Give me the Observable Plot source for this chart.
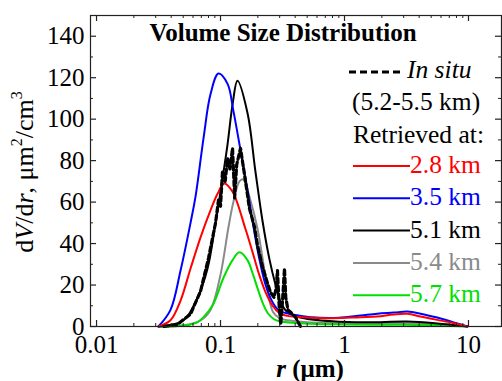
<!DOCTYPE html>
<html><head><meta charset="utf-8">
<script src="https://cdn.jsdelivr.net/npm/d3@7"></script>
<script src="https://cdn.jsdelivr.net/npm/@observablehq/plot@0.6"></script>
<style>
html,body{margin:0;padding:0;background:#fff;}
#chart svg{display:block;}
#chart svg text.serif{font-family:'Liberation Serif','Times New Roman',serif;}
</style></head><body><div id="chart"></div>
<script>
// ---- data (radius r in µm, dV/dr in µm²/cm³) ----
const rInSitu = [0.035,0.045,0.0573,0.069,0.08,0.0912,0.0963,0.1,0.1038,0.109,0.114,0.119,0.125,0.13,0.135,0.145,0.159,0.171,0.188,0.199,0.218,0.239,0.253,0.27,0.28,0.288,0.297,0.306,0.316,0.328,0.336,0.35,0.366,0.402,0.442];
const vInSitu = [0,1,6,17,33,50,61,58,75,70,81,76,86,62,78,86,70,57,48,39,29,21,16.5,14,18,27,10,1,12,28,14,8,7,4.5,0];

const r28 = [0.0316,0.0395,0.0476,0.0573,0.069,0.083,0.0946,0.107,0.125,0.159,0.181,0.205,0.231,0.263,0.297,0.356,0.46,0.8,1.35,1.84,2.49,3.22,4.11,5.6,7.6,9.8];
const v28 = [0,3,12.5,28,43,56,64,69,65,47,36,25,16.5,10,6.6,5,4.5,4,4.5,4.8,5.8,6.1,4.8,3.2,1.6,0];

const r35 = [0.0316,0.0395,0.0476,0.0573,0.063,0.073,0.083,0.0963,0.114,0.127,0.15,0.165,0.181,0.205,0.231,0.263,0.297,0.381,0.53,0.9,1.35,1.84,2.49,3.22,4.11,5.6,7.6,9.8];
const v35 = [0,8,27,50,63,91,112,122,117,104,80,66,51,33,20,11.7,7.7,5.8,4.5,4.2,5.3,6.2,6.7,7.2,6.2,4.3,2,0];

const r51 = [0.0316,0.0503,0.0653,0.0786,0.0912,0.1,0.114,0.125,0.137,0.165,0.191,0.218,0.247,0.278,0.306,0.346,0.43,0.8,1.5,3.2,5.6,7.6,9.8];
const v51 = [0,3,14,28,50,65,88,107,118.5,103,75,51,33,20,11.7,6.9,4.5,2.5,2,2.4,1.5,0.7,0];

const r54 = [0.0316,0.05,0.069,0.083,0.1,0.116,0.127,0.142,0.152,0.174,0.199,0.222,0.244,0.265,0.3,0.35,0.5,1,3.2,5.6,7.6,9.8];
const v54 = [0,0.5,3,8,25,48,60,70,71,61,47,30,15,7,4,3,2,1.5,1.6,1,0.5,0];

const r57 = [0.0316,0.045,0.0573,0.065,0.073,0.0878,0.1057,0.125,0.142,0.165,0.183,0.2,0.22,0.24,0.27,0.3,0.4,0.6,1,3,6,9.8];
const v57 = [0,0.3,1,2,4.5,11,23.5,32,35.8,32,25,18,11,6.5,3.5,2.5,1.7,1.2,1,0.8,0.5,0];

const yMajor = [0,20,40,60,80,100,120,140];
const yMinor = [10,30,50,70,90,110,130,150];
const xMajor = [0.01,0.1,1,10];
const xTickLabels = ["0.01","0.1","1","10"];
const xMinor = [2,3,4,5,6,7,8,9].flatMap(k => [0.01,0.1,1,10].map(d => k*d)).filter(v => v < 18.4);

const legendNames = ["2.8 km","3.5 km","5.1 km","5.4 km","5.7 km"];
const legendColors = ["#ff0000","#0000ff","#000000","#8a8a8a","#00e000"];

const toRows = (rs, vs) => rs.map((r, i) => ({r, v: vs[i]}));

const W = 502, H = 381, mL = 90, mR = 1, mT = 15, mB = 55;
const fw = W - mL - mR, fh = H - mT - mB;
const serif = "'Liberation Serif','Times New Roman',serif";
const frameColor = "#222";

const plot = Plot.plot({
  width: W, height: H,
  marginLeft: mL, marginRight: mR, marginTop: mT, marginBottom: mB,
  style: {fontFamily: serif, fontSize: "25px", background: "#fff", color: "#000", overflow: "visible"},
  x: {type: "log", domain: [0.00894, 18.46], label: null},
  y: {domain: [0, 150], label: null},
  marks: [
    Plot.line(toRows(r54, v54), {x: "r", y: "v", stroke: legendColors[3], strokeWidth: 2, curve: "catmull-rom"}),
    Plot.line(toRows(r57, v57), {x: "r", y: "v", stroke: legendColors[4], strokeWidth: 2, curve: "catmull-rom"}),
    Plot.line(toRows(r51, v51), {x: "r", y: "v", stroke: legendColors[2], strokeWidth: 2, curve: "catmull-rom"}),
    Plot.line(toRows(r35, v35), {x: "r", y: "v", stroke: legendColors[1], strokeWidth: 2, curve: "catmull-rom"}),
    Plot.line(toRows(r28, v28), {x: "r", y: "v", stroke: legendColors[0], strokeWidth: 2, curve: "catmull-rom"}),
    Plot.line(toRows(rInSitu, vInSitu), {x: "r", y: "v", stroke: "#000", strokeWidth: 3.2, strokeDasharray: "5,3", curve: "linear"}),
    Plot.frame({stroke: frameColor, strokeWidth: 1.2}),
    Plot.tickX(xMajor, {x: d => d, insetTop: fh - 6, stroke: frameColor, strokeWidth: 1.2}),
    Plot.tickX(xMinor, {x: d => d, insetTop: fh - 3, stroke: frameColor}),
    Plot.tickX(xMajor, {x: d => d, insetBottom: fh - 6, stroke: frameColor, strokeWidth: 1.2}),
    Plot.tickX(xMinor, {x: d => d, insetBottom: fh - 3, stroke: frameColor}),
    Plot.tickY(yMajor, {y: d => d, insetRight: fw - 6, stroke: frameColor, strokeWidth: 1.2}),
    Plot.tickY(yMinor, {y: d => d, insetRight: fw - 3, stroke: frameColor}),
    Plot.tickY(yMajor, {y: d => d, insetLeft: fw - 6, stroke: frameColor, strokeWidth: 1.2}),
    Plot.tickY(yMinor, {y: d => d, insetLeft: fw - 3, stroke: frameColor}),
    Plot.axisX({ticks: xMajor, tickSize: 0, tickPadding: 9, fontSize: 25, tickFormat: d => xTickLabels[xMajor.indexOf(d)]}),
    Plot.axisY({ticks: yMajor, tickSize: 0, tickPadding: 6, fontSize: 25})
  ]
});
document.getElementById("chart").appendChild(plot);

const svg = d3.select(plot);
const addText = (parent, anchor = "start") => parent.append("text").attr("class", "serif")
  .attr("text-anchor", anchor).style("text-anchor", anchor).style("font-family", serif);

// title
addText(svg, "middle").attr("x", 283).attr("y", 41)
  .style("font-size", "25px").style("font-weight", "bold").text("Volume Size Distribution");

// y label
const yl = addText(svg, "middle").attr("transform", "translate(33,172) rotate(-90)")
  .style("font-size", "26px");
yl.append("tspan").text("d");
yl.append("tspan").style("font-style", "italic").text("V");
yl.append("tspan").text("/d");
yl.append("tspan").style("font-style", "italic").text("r");
yl.append("tspan").text(", μm");
yl.append("tspan").style("font-size", "16px").attr("dy", -11).text("2");
yl.append("tspan").attr("dy", 11).text("/cm");
yl.append("tspan").style("font-size", "16px").attr("dy", -11).text("3");

// x label
const xl = addText(svg, "middle").attr("x", 310).attr("y", 377)
  .style("font-size", "25px").style("font-weight", "bold");
xl.append("tspan").style("font-style", "italic").text("r");
xl.append("tspan").text(" (μm)");

// legend
const lfs = "25.5px";
const lg = svg.append("g");
lg.append("line").attr("x1", 349).attr("x2", 402).attr("y1", 72).attr("y2", 72)
  .attr("stroke", "#000").attr("stroke-width", 3).attr("stroke-dasharray", "7,4");
addText(lg).attr("x", 407).attr("y", 78).style("font-size", lfs).style("font-style", "italic").text("In situ");
addText(lg).attr("x", 352).attr("y", 110).style("font-size", lfs).text("(5.2-5.5 km)");
addText(lg).attr("x", 353).attr("y", 143).style("font-size", lfs).text("Retrieved at:");
legendNames.forEach((name, i) => {
  const yy = 166 + i * 32.3;
  lg.append("line").attr("x1", 353).attr("x2", 410).attr("y1", yy).attr("y2", yy)
    .attr("stroke", legendColors[i]).attr("stroke-width", 2);
  addText(lg).attr("x", 410).attr("y", yy + 7).style("font-size", lfs).attr("fill", legendColors[i]).text(name);
});
</script>
</body></html>
